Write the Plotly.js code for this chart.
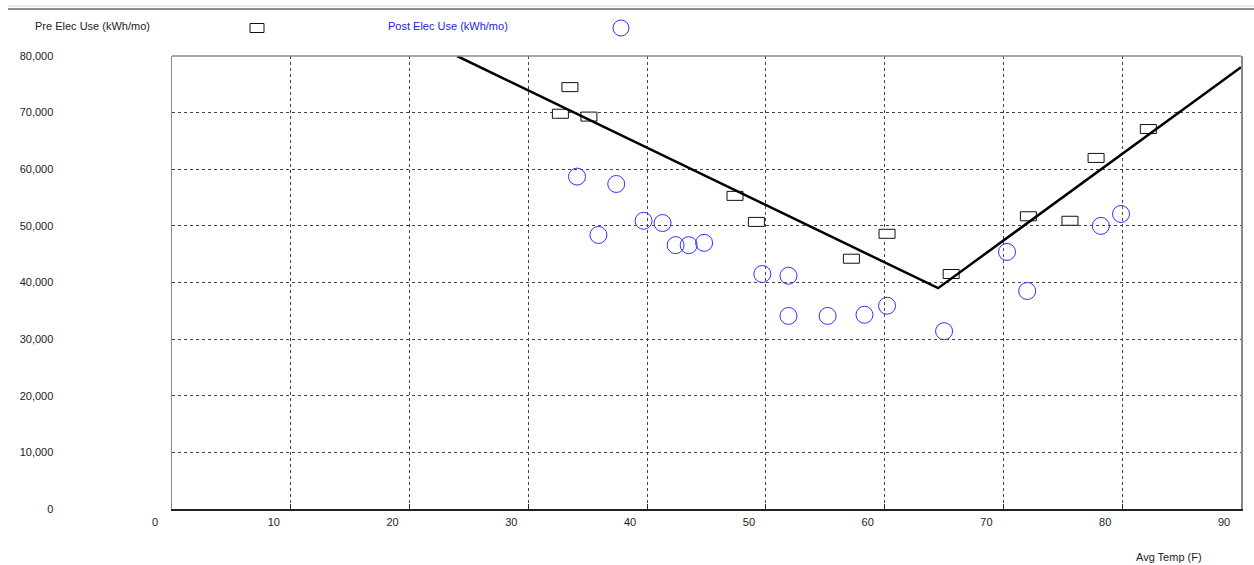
<!DOCTYPE html>
<html>
<head>
<meta charset="utf-8">
<script src="https://cdn.plot.ly/plotly-3.0.1.min.js"></script>
<style>
html,body{margin:0;padding:0;background:#fff;}
#chart{width:1254px;height:565px;}
</style>
</head>
<body>
<div id="chart"></div>
<script>
// Pre-retrofit electric use (rectangles)
const preTemp = [32.7, 33.5, 35.1, 47.4, 49.2, 57.2, 60.2, 65.6, 72.1, 75.6, 77.8, 82.2];
const preUse  = [69800, 74500, 69300, 55300, 50700, 44200, 48600, 41500, 51700, 50900, 62000, 67100];

// Post-retrofit electric use (circles)
const postTemp = [34.1, 35.9, 37.4, 39.7, 41.3, 42.4, 43.5, 44.8, 49.7, 51.9, 51.9, 55.2, 58.3, 60.2, 65.0, 70.3, 72.0, 78.2, 79.9];
const postUse  = [58700, 48400, 57400, 50900, 50500, 46600, 46600, 47000, 41500, 41200, 34100, 34100, 34300, 35900, 31400, 45400, 38500, 50000, 52100];

// Fitted change-point line
const fitTemp = [24.0, 64.5, 90.0];
const fitUse  = [80000, 39000, 78000];

const xTicks = [0, 10, 20, 30, 40, 50, 60, 70, 80, 90];
const yTicks = [0, 10000, 20000, 30000, 40000, 50000, 60000, 70000, 80000];
const yTickText = ['0', '10,000', '20,000', '30,000', '40,000', '50,000', '60,000', '70,000', '80,000'];

const preLabel = 'Pre Elec Use (kWh/mo)';
const postLabel = 'Post Elec Use (kWh/mo)';

const FONT = 'Liberation Sans, Arial, sans-serif';

const traces = [
  {
    x: fitTemp, y: fitUse, type: 'scatter', mode: 'lines',
    line: {color: '#000', width: 2.5}, hoverinfo: 'skip', showlegend: false, cliponaxis: true
  },
  {
    x: preTemp, y: preUse, type: 'scatter', mode: 'markers', name: preLabel,
    marker: {size: 1, color: 'rgba(0,0,0,0)'}, showlegend: false
  },
  {
    x: postTemp, y: postUse, type: 'scatter', mode: 'markers', name: postLabel,
    marker: {symbol: 'circle-open', size: 17, color: '#3030ff', line: {width: 1}}, showlegend: false
  }
];

const shapes = preTemp.map((t, i) => ({
  type: 'rect', xref: 'x', yref: 'y',
  xsizemode: 'pixel', ysizemode: 'pixel',
  xanchor: t, yanchor: preUse[i],
  x0: -8, x1: 8, y0: -4.5, y1: 4.5,
  line: {color: '#111', width: 1}, fillcolor: '#ffffff', layer: 'between'
}));

// plot area: top 56px, bottom 509px => height 453
const pyToPaper = py => (509 - py) / 453;
const pxToPaper = px => (px - 172) / 1069;

// top window line
shapes.push({type: 'line', xref: 'paper', yref: 'paper', x0: pxToPaper(8), x1: pxToPaper(1254), y0: pyToPaper(9), y1: pyToPaper(9), line: {color: '#8c8c8c', width: 2}});
shapes.push({type: 'line', xref: 'paper', yref: 'paper', x0: pxToPaper(8), x1: pxToPaper(1254), y0: pyToPaper(6), y1: pyToPaper(6), line: {color: '#e6e6e6', width: 2}});
// top frame line
shapes.push({type: 'line', xref: 'paper', yref: 'paper', x0: 0, x1: 1, y0: 1, y1: 1, line: {color: '#888', width: 1.5}});
// legend symbols
shapes.push({type: 'rect', xref: 'paper', yref: 'paper', xsizemode: 'pixel', ysizemode: 'pixel',
  xanchor: pxToPaper(257), yanchor: pyToPaper(28), x0: -7, x1: 7, y0: -4.5, y1: 4.5,
  line: {color: '#111', width: 1}, fillcolor: 'rgba(0,0,0,0)'});
shapes.push({type: 'circle', xref: 'paper', yref: 'paper', xsizemode: 'pixel', ysizemode: 'pixel',
  xanchor: pxToPaper(621), yanchor: pyToPaper(28), x0: -8, x1: 8, y0: -8, y1: 8,
  line: {color: '#3030ff', width: 1}, fillcolor: 'rgba(0,0,0,0)'});

const annotations = [
  {text: preLabel, xref: 'paper', yref: 'paper', x: pxToPaper(33), y: pyToPaper(26), xanchor: 'left', yanchor: 'middle', showarrow: false, font: {family: FONT, size: 11, color: '#222'}},
  {text: postLabel, xref: 'paper', yref: 'paper', x: pxToPaper(386), y: pyToPaper(26), xanchor: 'left', yanchor: 'middle', showarrow: false, font: {family: FONT, size: 11, color: '#2222ee'}},
  {text: 'Avg Temp (F)', xref: 'paper', yref: 'paper', x: pxToPaper(1134), y: pyToPaper(557), xanchor: 'left', yanchor: 'middle', showarrow: false, font: {family: FONT, size: 11, color: '#222'}}
];

const layout = {
  width: 1254, height: 565,
  margin: {l: 172, r: 13, t: 56, b: 56, pad: 0},
  paper_bgcolor: '#fff', plot_bgcolor: '#fff',
  font: {family: FONT, size: 11, color: '#222'},
  showlegend: false,
  xaxis: {
    range: [0, 90], tickvals: xTicks, ticktext: xTicks.map(String),
    showgrid: true, gridcolor: '#444', griddash: '3px,3px', gridwidth: 1,
    showline: true, linecolor: '#222', linewidth: 1.5,
    ticks: 'inside', ticklen: 5, tickcolor: '#222', tickwidth: 1,
    ticklabelshift: -17, ticklabelstandoff: 2,
    zeroline: false, fixedrange: true
  },
  yaxis: {
    range: [0, 80000], tickvals: yTicks, ticktext: yTickText,
    showgrid: true, gridcolor: '#444', griddash: '3px,3px', gridwidth: 1,
    showline: true, mirror: true, linecolor: '#888', linewidth: 1.5,
    ticks: '', ticklabelstandoff: 115,
    zeroline: false, fixedrange: true
  },
  shapes: shapes,
  annotations: annotations
};

Plotly.newPlot('chart', traces, layout, {displayModeBar: false, staticPlot: true});
</script>
</body>
</html>
